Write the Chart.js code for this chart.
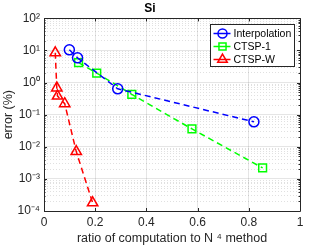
<!DOCTYPE html>
<html>
<head>
<meta charset="utf-8">
<script src="https://cdn.jsdelivr.net/npm/chart.js@4/dist/chart.umd.min.js"></script>
<style>
html, body { margin: 0; padding: 0; background: #fff; }
#wrap { width: 332px; height: 249px; }
</style>
</head>
<body>
<div id="wrap"><canvas id="c" width="332" height="249"></canvas></div>
<script>
// values
const interpX = [0.099, 0.131, 0.288, 0.820];
const interpY = [10.5, 5.9, 0.64, 0.060];
const ctsp1X = [0.135, 0.206, 0.343, 0.578, 0.854];
const ctsp1Y = [4.2, 1.97, 0.43, 0.036, 0.0022];
const ctspWX = [0.044, 0.050, 0.053, 0.081, 0.126, 0.190];
const ctspWY = [8.5, 0.68, 0.38, 0.22, 0.0071, 0.00018];
const seriesNames = ['Interpolation', 'CTSP-1', 'CTSP-W'];
const seriesColors = ['#0000ff', '#00ff00', '#ff0000'];
const seriesMarkers = ['circle', 'rect', 'triangle'];
const markerSizes = [5, 5.5, 6];
const xTicks = [0, 0.2, 0.4, 0.6, 0.8, 1];
const xTickLabels = ['0', '0.2', '0.4', '0.6', '0.8', '1'];
const yDecades = [1e-4, 1e-3, 1e-2, 1e-1, 1, 10, 100];
const yTickLabels = ['10⁻⁴', '10⁻³', '10⁻²', '10⁻¹', '10⁰', '10¹', '10²'];

const FONT = "'Liberation Sans', Arial, sans-serif";
const AXIS_COLOR = '#262626';
Chart.defaults.font.family = FONT;

function toPoints(xs, ys) {
    return xs.map((x, i) => ({ x: x, y: ys[i] }));
}

function isDecade(v) {
    const l = Math.log10(v);
    return Math.abs(l - Math.round(l)) < 1e-6;
}

const allX = [interpX, ctsp1X, ctspWX];
const allY = [interpY, ctsp1Y, ctspWY];
const datasets = seriesNames.map((name, i) => ({
    label: name,
    data: toPoints(allX[i], allY[i]),
    borderColor: seriesColors[i],
    backgroundColor: 'rgba(0,0,0,0)',
    borderWidth: 1.5,
    borderDash: [6, 4],
    pointStyle: seriesMarkers[i],
    pointRadius: markerSizes[i],
    pointBorderWidth: 1.5,
    pointBorderColor: seriesColors[i],
    pointBackgroundColor: 'rgba(0,0,0,0)',
    fill: false,
    tension: 0
}));

// box around the axes + inward ticks, like matlab "box on"
const axesBox = {
    id: 'axesBox',
    afterDatasetsDraw(chart) {
        const { ctx, chartArea: a, scales } = chart;
        ctx.save();
        ctx.strokeStyle = AXIS_COLOR;
        ctx.lineWidth = 1;
        ctx.setLineDash([]);
        ctx.beginPath();
        ctx.rect(Math.round(a.left) + 0.5, Math.round(a.top) + 0.5,
            Math.round(a.right - a.left), Math.round(a.bottom - a.top));
        ctx.stroke();
        ctx.beginPath();
        scales.x.ticks.forEach(t => {
            const px = Math.round(scales.x.getPixelForValue(t.value)) + 0.5;
            ctx.moveTo(px, a.bottom); ctx.lineTo(px, a.bottom - 3);
            ctx.moveTo(px, a.top); ctx.lineTo(px, a.top + 3);
        });
        scales.y.ticks.forEach(t => {
            const py = Math.round(scales.y.getPixelForValue(t.value)) + 0.5;
            const len = isDecade(t.value) ? 3 : 1.5;
            ctx.moveTo(a.left, py); ctx.lineTo(a.left + len, py);
            ctx.moveTo(a.right, py); ctx.lineTo(a.right - len, py);
        });
        ctx.stroke();
        ctx.restore();
    }
};

// matlab style legend inside the top right corner
const insideLegend = {
    id: 'insideLegend',
    afterDraw(chart) {
        const { ctx, chartArea: a } = chart;
        const w = 84, h = 42;
        const x0 = Math.round(a.right) - 6 - w + 0.5;
        const y0 = Math.round(a.top) + 6 + 0.5;
        ctx.save();
        ctx.fillStyle = '#fff';
        ctx.fillRect(x0, y0, w, h);
        ctx.strokeStyle = AXIS_COLOR;
        ctx.lineWidth = 1;
        ctx.strokeRect(x0, y0, w, h);
        ctx.font = '10.5px ' + FONT;
        ctx.textBaseline = 'middle';
        seriesNames.forEach((name, i) => {
            const cy = y0 + 9 + i * 13;
            ctx.strokeStyle = seriesColors[i];
            ctx.lineWidth = 1.5;
            ctx.beginPath();
            ctx.moveTo(x0 + 3, cy);
            ctx.lineTo(x0 + 20, cy);
            ctx.stroke();
            ctx.fillStyle = 'rgba(0,0,0,0)';
            Chart.helpers.drawPoint(ctx, {
                pointStyle: seriesMarkers[i],
                radius: markerSizes[i] - 0.5,
                borderWidth: 1.5
            }, x0 + 12, cy);
            ctx.fillStyle = '#000';
            ctx.fillText(name, x0 + 23, cy + 0.5);
        });
        ctx.restore();
    }
};

new Chart(document.getElementById('c'), {
    type: 'line',
    data: { datasets: datasets },
    plugins: [axesBox, insideLegend],
    options: {
        responsive: false,
        animation: false,
        layout: { padding: { left: 0, right: 32, top: 0, bottom: 0 } },
        plugins: {
            legend: { display: false },
            tooltip: { enabled: false },
            title: {
                display: true,
                text: 'Si',
                color: '#000',
                font: { size: 12, weight: 'bold' },
                padding: { top: 1, bottom: 3 }
            }
        },
        scales: {
            x: {
                type: 'linear',
                min: 0,
                max: 1,
                afterBuildTicks: s => { s.ticks = xTicks.map(v => ({ value: v })); },
                afterFit: s => { s.height = 38; },
                ticks: {
                    color: AXIS_COLOR,
                    font: { size: 12 },
                    padding: 4,
                    maxRotation: 0,
                    autoSkip: false,
                    callback: (v, i) => xTickLabels[i]
                },
                grid: { color: 'rgba(0,0,0,0.1)', drawTicks: false },
                border: { display: false },
                title: {
                    display: true,
                    text: 'ratio of computation to N ⁴ method',
                    color: AXIS_COLOR,
                    font: { size: 12.5 },
                    padding: { top: 3, bottom: 3 }
                }
            },
            y: {
                type: 'logarithmic',
                min: 1e-4,
                max: 100,
                afterBuildTicks: s => {
                    const t = [];
                    yDecades.forEach((d, i) => {
                        t.push({ value: d, major: true });
                        if (i < yDecades.length - 1) {
                            for (let k = 2; k <= 9; k++) t.push({ value: d * k, major: false });
                        }
                    });
                    s.ticks = t;
                },
                afterFit: s => { s.width = 44; },
                ticks: {
                    color: AXIS_COLOR,
                    font: { size: 12 },
                    padding: 4,
                    autoSkip: false,
                    callback: v => {
                        const i = yDecades.findIndex(d => Math.abs(Math.log10(v) - Math.log10(d)) < 1e-6);
                        return i >= 0 ? yTickLabels[i] : '';
                    }
                },
                grid: {
                    drawTicks: false,
                    color: c => (c.tick && isDecade(c.tick.value)) ? 'rgba(0,0,0,0.1)' : 'rgba(0,0,0,0.12)'
                },
                border: {
                    display: false,
                    dash: c => (c.tick && isDecade(c.tick.value)) ? [] : [1, 2]
                },
                title: {
                    display: true,
                    text: 'error (%)',
                    color: AXIS_COLOR,
                    font: { size: 12.5 },
                    padding: { top: 1, bottom: 2 }
                }
            }
        }
    }
});
</script>
</body>
</html>
